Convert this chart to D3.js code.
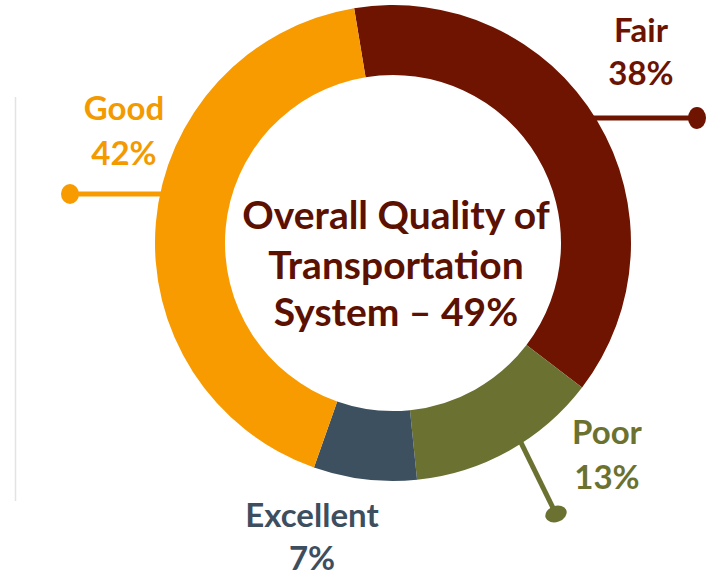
<!DOCTYPE html>
<html><head><meta charset="utf-8">
<script src="https://cdn.jsdelivr.net/npm/d3@7"></script>
<style>html,body{margin:0;padding:0;background:#fff;}svg{display:block;}</style>
</head><body>
<svg id="c" width="716" height="577"></svg>
<script>
const categories = ["Fair", "Poor", "Excellent", "Good"];
const values = [38, 13, 7, 42];
const colors = ["#6F1400", "#6B7131", "#3C5060", "#F89B00"];
const labelColors = ["#6B1300", "#6B7230", "#3D4F5F", "#F39A00"];
const titleLines = ["Overall Quality of", "Transportation", "System \u2013 49%"];

const W = 716, H = 577;
const cx = 393, cy = 243, outerR = 238, innerR = 168;
const startAngle = -9.4 * Math.PI / 180;
const font = "Lato, 'Open Sans', sans-serif";

const svg = d3.select("#c");
const g = svg.append("g").attr("transform", `translate(${cx},${cy})`);

const pie = d3.pie().sort(null).value(d => d)
  .startAngle(startAngle).endAngle(startAngle + 2 * Math.PI);
const arcs = pie(values);
const arc = d3.arc().innerRadius(innerR).outerRadius(outerR);

g.selectAll("path.slice").data(arcs).join("path")
  .attr("class", "slice")
  .attr("d", arc)
  .attr("fill", (d, i) => colors[i]);

// faint vertical rule at left
svg.append("line").attr("x1", 15.5).attr("x2", 15.5).attr("y1", 97).attr("y2", 501)
  .attr("stroke", "#e3e3e3").attr("stroke-width", 1.5);

// leader lines: [category index, angle on ring (deg), end x, end y, dot rx, dot ry, dot rot]
const leaders = [
  [0, 56.4, 697, 118, 9, 11, 0],
  [1, 147, 556, 514, 11, 8, -20],
  [3, 282.5, 70, 194, 9, 10, 0]
];
leaders.forEach(([i, ang, ex, ey, rx, ry, rot]) => {
  const a = ang * Math.PI / 180;
  const r = outerR - 12;
  const sx = cx + r * Math.sin(a), sy = cy - r * Math.cos(a);
  svg.append("line").attr("x1", sx).attr("y1", sy).attr("x2", ex).attr("y2", ey)
    .attr("stroke", colors[i]).attr("stroke-width", 5);
  svg.append("ellipse").attr("cx", ex).attr("cy", ey).attr("rx", rx).attr("ry", ry)
    .attr("transform", `rotate(${rot},${ex},${ey})`)
    .attr("fill", colors[i]);
});

// category labels: [index, center x, baseline y of name, baseline y of pct]
const labelPos = [
  [0, 641, 42, 85],
  [1, 607, 444, 489],
  [2, 312, 527, 570],
  [3, 124, 120, 165]
];
labelPos.forEach(([i, x, y1, y2]) => {
  const t = svg.append("text").attr("text-anchor", "middle")
    .attr("font-family", font).attr("font-weight", 700).attr("font-size", 33)
    .attr("fill", labelColors[i]);
  t.append("tspan").attr("x", x).attr("y", y1).text(categories[i]);
  t.append("tspan").attr("x", x).attr("y", y2).text(values[i] + "%");
});

// center title
const tt = svg.append("text").attr("text-anchor", "middle")
  .attr("font-family", font).attr("font-weight", 700).attr("font-size", 39)
  .attr("fill", "#5B1000");
[229, 279, 326].forEach((y, k) => {
  tt.append("tspan").attr("x", cx + 3).attr("y", y).text(titleLines[k]);
});
</script>
</body></html>
